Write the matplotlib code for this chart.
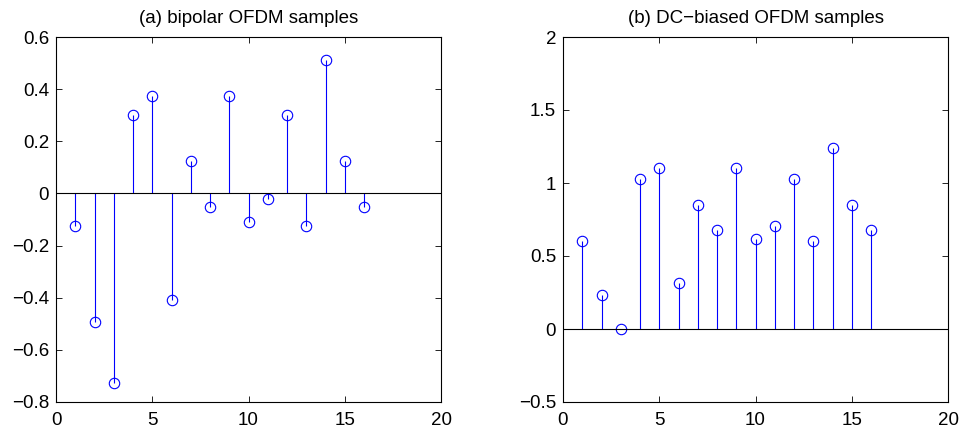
import matplotlib
matplotlib.use("Agg")
import matplotlib.pyplot as plt
import numpy as np

plt.rcParams["font.family"] = ["Liberation Sans", "DejaVu Sans"]
plt.rcParams["font.size"] = 13.5

n = np.arange(1, 17)
bipolar = [-0.125, -0.494, -0.728, 0.299, 0.373, -0.410, 0.124, -0.052,
           0.373, -0.110, -0.023, 0.299, -0.125, 0.512, 0.124, -0.052]
dc_biased = [0.603, 0.234, 0.000, 1.027, 1.101, 0.318, 0.852, 0.676,
             1.101, 0.618, 0.705, 1.027, 0.603, 1.240, 0.852, 0.676]

titles = ["(a) bipolar OFDM samples", "(b) DC\u2212biased OFDM samples"]
ylims = [(-0.8, 0.6), (-0.5, 2.0)]
yticks = [np.arange(-0.8, 0.61, 0.2), np.arange(-0.5, 2.01, 0.5)]

fig = plt.figure(figsize=(9.61, 4.30), dpi=100)
W, H = 961, 430
boxes = [(56, 37, 441, 402), (563, 37, 948, 402)]

for k, (data, box) in enumerate(zip([bipolar, dc_biased], boxes)):
    x0, y0, x1, y1 = box
    ax = fig.add_axes([x0 / W, 1 - y1 / H, (x1 - x0) / W, (y1 - y0) / H])
    markers, stems, base = ax.stem(n, data, basefmt="k-")
    plt.setp(markers, marker="o", markersize=7.5, markerfacecolor="none",
             markeredgecolor="blue", markeredgewidth=0.8)
    plt.setp(stems, color="blue", linewidth=0.8)
    plt.setp(base, color="black", linewidth=0.8)
    base.set_xdata([0, 20])
    ax.set_xlim(0, 20)
    ax.set_ylim(*ylims[k])
    ax.set_xticks([0, 5, 10, 15, 20])
    ax.set_yticks(yticks[k])
    ax.set_yticklabels([f"{v:g}".replace("-", "\u2212") if abs(v) > 1e-9 else "0"
                        for v in yticks[k]])
    ax.tick_params(direction="in", top=True, right=True, length=4, width=0.6)
    ax.tick_params(axis="x", pad=7)
    ax.tick_params(axis="y", pad=5)
    for s in ax.spines.values():
        s.set_linewidth(0.8)
    ax.set_title(titles[k], fontsize=13.5, pad=10)

fig.savefig("out.png", dpi=100)
